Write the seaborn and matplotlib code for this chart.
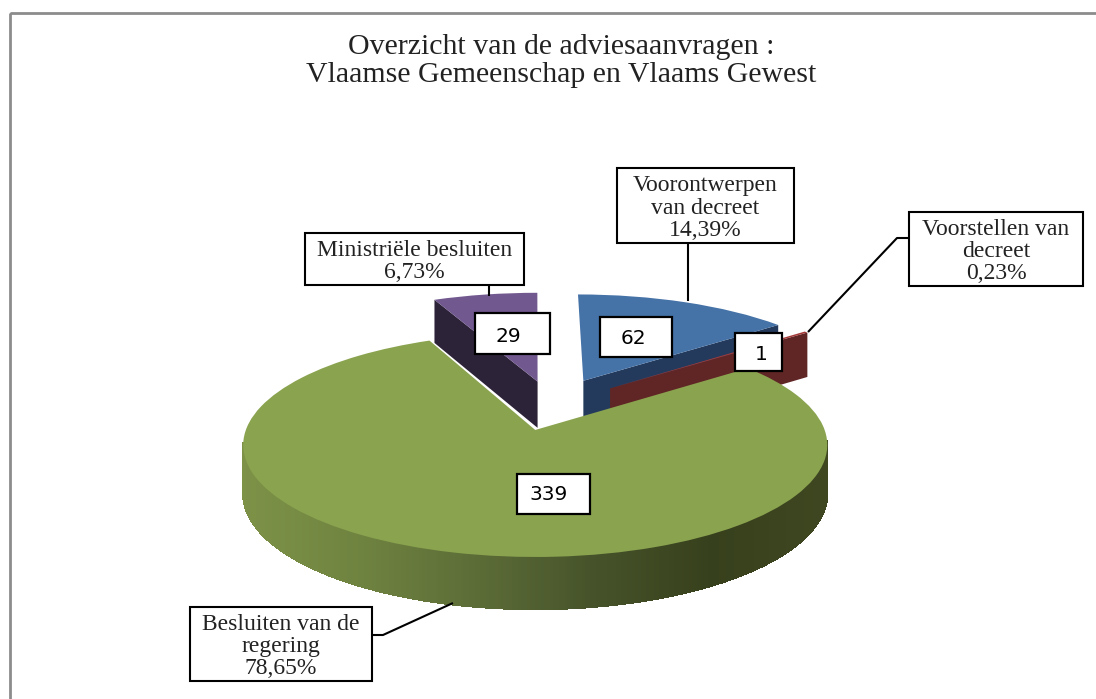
import numpy as np
import matplotlib
matplotlib.use('Agg')
import matplotlib.pyplot as plt
import matplotlib.transforms as mtransforms
from matplotlib.patches import Polygon, Rectangle
import seaborn as sns

# ── Data ──────────────────────────────────────────────────
slice_counts = [62, 1, 339, 29]
slice_pct = ['14,39%', '0,23%', '78,65%', '6,73%']
callout_names = ['Voorontwerpen\nvan decreet', 'Voorstellen van\ndecreet',
                 'Besluiten van de\nregering', 'Ministriële besluiten']
title_text = 'Overzicht van de adviesaanvragen :\nVlaamse Gemeenschap en Vlaams Gewest'

top_colors = ['#4572a7', '#a53c3a', '#8aa34f', '#71588f']
cut_colors = ['#243a5c', '#5f2625', None, '#2d2339']
rim_stops = ['#7d9247', '#6f8340', '#5c6c37', '#46532a', '#37401c', '#3e4720']

# ── Pixel layout ──────────────────────────────────────────
explode = [0.27, 0.27, 0.24, 0.24]
radius = [1, 1, 1, 1.03]
tilt = 0.134
apex_x, apex_y = 535.5, 430
scale_x, scale_y = 289.4, 110
shift_u, shift_v = 0.058, 0.233

count_boxes = [(600, 317, 72, 40), (735, 333, 47, 38), (517, 474, 73, 40), (475, 313, 75, 41)]
count_text = [(633, 339), (761, 354), (549, 494), (508, 336)]
call_boxes = [(617, 168, 177, 75), (909, 212, 174, 74), (190, 607, 182, 74), (305, 233, 219, 52)]
leaders = [
    ([688, 688], [243, 301]),
    ([909, 897, 808], [238, 238, 332]),
    ([372, 383, 453], [635, 635, 603]),
    ([489, 489], [285, 296]),
]


class PiePerspective(mtransforms.Transform):
    input_dims = 2
    output_dims = 2
    is_separable = False
    has_inverse = False

    def transform_non_affine(self, values):
        pts = np.asarray(values, dtype=float)
        u = pts[:, 0] + shift_u
        v = pts[:, 1] + shift_v
        w = 1 + tilt * v
        return np.column_stack([apex_x + scale_x * u / w, apex_y - scale_y * v / w])


def depth(q):
    return 48 / (1 + 0.08 * (q + shift_v))


persp = PiePerspective()

sns.set_theme(style='white')
plt.rcParams['font.family'] = ['Liberation Serif', 'DejaVu Serif']

fig = plt.figure(figsize=(10.96, 6.99), dpi=100)
ax = fig.add_axes([0, 0, 1, 1])

wedges, _ = ax.pie(slice_counts, explode=explode, startangle=90, counterclock=False,
                   colors=top_colors, radius=1, wedgeprops={'linewidth': 0})
ax.set_aspect('auto')
ax.set_xlim(0, 1096)
ax.set_ylim(699, 0)
ax.axis('off')


def extrude(a, b):
    pa, pb = persp.transform(np.array([a, b]))
    return np.array([pa, pb, pb + [0, depth(b[1])], pa + [0, depth(a[1])]])


draw_order = {0: 3, 1: 5, 2: 7, 3: 1}
for i, wedge in enumerate(wedges):
    wedge.set_radius(radius[i])
    wedge.set_transform(persp + ax.transData)
    wedge.set_zorder(draw_order[i] + 1)
    centre = np.array(wedge.center)
    if cut_colors[i] is not None:
        # flat cut face that looks at the viewer
        angle = wedge.theta2 if i == 3 else wedge.theta1
        rim_pt = centre + radius[i] * np.array([np.cos(np.radians(angle)), np.sin(np.radians(angle))])
        ax.add_patch(Polygon(extrude(centre, rim_pt), closed=True, color=cut_colors[i],
                             lw=0, zorder=draw_order[i]))

# green outer rim, shaded left to right, front half only
green = wedges[2]
shade = sns.blend_palette(rim_stops, n_colors=256)
angles = np.arange(green.theta1, green.theta2, 0.5)
for t0, t1 in zip(angles[:-1], angles[1:]):
    if np.sin(np.radians(t0)) > -0.1:
        continue
    p0 = np.array(green.center) + [np.cos(np.radians(t0)), np.sin(np.radians(t0))]
    p1 = np.array(green.center) + [np.cos(np.radians(t1)), np.sin(np.radians(t1))]
    strip = extrude(p0, p1)
    idx = int(np.clip((strip[:, 0].mean() - 243) / 585 * 255, 0, 255))
    ax.add_patch(Polygon(strip, closed=True, facecolor=shade[idx], edgecolor=shade[idx],
                         lw=0.8, antialiased=False, zorder=draw_order[2]))

# count labels
for (x, y, w, h), (tx, ty), n in zip(count_boxes, count_text, slice_counts):
    ax.add_patch(Rectangle((x, y), w, h, facecolor='white', edgecolor='black', lw=1.6, zorder=20))
    ax.text(tx, ty, str(n), ha='center', va='center', fontsize=14.5, color='black',
            family='DejaVu Sans', zorder=21)

# callouts
for (xs, ys) in leaders:
    ax.plot(xs, ys, color='black', lw=1.5, zorder=19, solid_capstyle='butt')
for (x, y, w, h), name, pct in zip(call_boxes, callout_names, slice_pct):
    ax.add_patch(Rectangle((x, y), w, h, facecolor='white', edgecolor='black', lw=1.5, zorder=20))
    ax.text(x + w / 2, y + h / 2 + 2.5, name + '\n' + pct, ha='center', va='center', fontsize=17,
            linespacing=1.08, color='#222222', zorder=21)

ax.text(561, 61, title_text, ha='center', va='center', fontsize=21.5, linespacing=1.12, color='#222222')

# chart frame, runs off the picture on the right and bottom
ax.add_patch(Rectangle((10, 13), 1200, 800, facecolor='none', edgecolor='#8c8c8c', lw=2, zorder=30))

fig.savefig('out.png', dpi=100)
